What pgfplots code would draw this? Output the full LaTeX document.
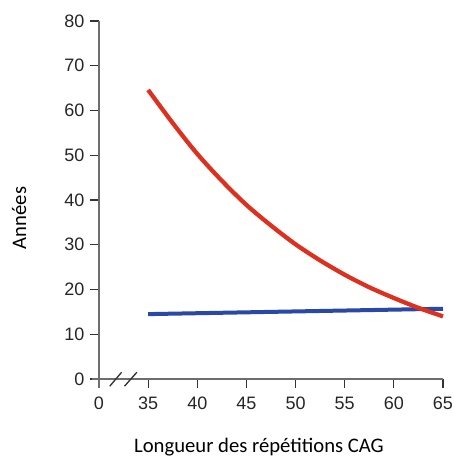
\documentclass[border=0pt]{standalone}
\usepackage{pgfplots}
\pgfplotsset{compat=1.18}
\usepackage{fontspec}
\setmainfont{Liberation Sans}
\newfontfamily\calibri{Carlito}
\definecolor{cred}{RGB}{222,48,30}
\definecolor{cblue}{RGB}{42,72,168}
\definecolor{axgray}{RGB}{110,110,110}
\begin{document}
\begin{tikzpicture}[x=1pt,y=1pt]
\path[use as bounding box] (-74.25,-64.5) rectangle (266.25,284.25);
\begin{axis}[
  at={(0,0)}, anchor=south west,
  scale only axis,
  width=258pt, height=268.5pt,
  xmin=30, xmax=65, ymin=0, ymax=80,
  axis lines=left,
  axis line style={-, axgray, line width=1pt},
  xtick={30,35,40,45,50,55,60,65},
  xticklabels={0,35,40,45,50,55,60,65},
  ytick={0,10,...,80},
  tick align=outside,
  major tick length=6.5pt,
  tick style={black!80, line width=0.9pt},
  ticklabel style={font=\fontsize{13.5}{15}\selectfont, text=black!85},
  /pgf/number format/assume math mode=true,
  xticklabel style={yshift=-3.5pt},
  yticklabel style={xshift=-1pt},
  xlabel={\calibri\fontsize{15.5}{18}\selectfont Longueur des répétitions CAG},
  ylabel={\calibri\fontsize{15.5}{18}\selectfont Années},
  xlabel style={at={(axis description cs:0.465,0)}, anchor=north, yshift=-41pt},
  ylabel style={at={(axis description cs:0,0.45)}, anchor=south, yshift=51pt},
  clip=false,
]
\draw[axgray, line width=1pt] (axis cs:29.3,0) -- (axis cs:30,0);
\draw[axgray, line width=1pt] (axis cs:30,0) -- (axis cs:30,-2);
\draw[black!80, line width=1pt] (axis cs:31.1,-1.6) -- (axis cs:32.3,1.5);
\draw[black!80, line width=1pt] (axis cs:32.6,-1.6) -- (axis cs:33.85,1.5);
\addplot[cblue, line width=3pt, no marks] coordinates {
  (35,14.5) (40,14.7) (45,14.9) (50,15.1) (55,15.3) (60,15.5) (65,15.7)
};
\addplot[cred, line width=3.2pt, no marks, smooth] coordinates {
  (35,64.6) (37.5,57.2) (40,50.3) (42.5,44.3) (45,38.9) (47.5,34.3)
  (50,30.1) (52.5,26.5) (55,23.3) (57.5,20.5) (60,18.1) (62.5,15.9) (65,14.0)
};
\end{axis}
\end{tikzpicture}
\end{document}
